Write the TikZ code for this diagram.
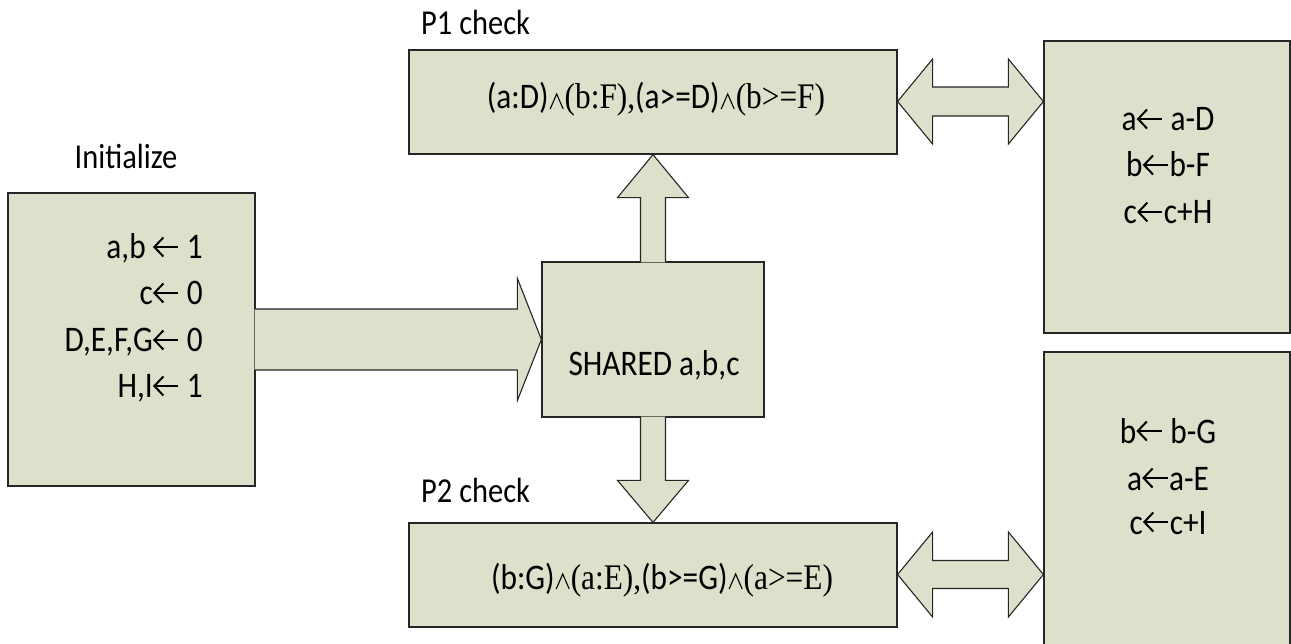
\documentclass[tikz,border=0pt]{standalone}
\usepackage{fontspec}
\setmainfont{Carlito}[FakeStretch=0.87]
\newfontfamily\tms{Liberation Serif}[FakeStretch=0.87]
\usetikzlibrary{calc}
\definecolor{boxfill}{RGB}{221,224,203}
% thin glyphs drawn inline: assignment arrow and logical and
\newcommand{\la}{\hspace{0.5pt}\tikz[baseline=0pt,x=1pt,y=1pt]{%
  \draw[line width=2pt] (25,12) -- (1.5,12);
  \draw[line width=2pt, line join=miter] (10,21.5) -- (1,12) -- (10,2.5);}\hspace{0.5pt}}
\newcommand{\andop}{\hspace{1pt}\tikz[baseline=0pt,x=1pt,y=1pt]{%
  \draw[line width=1.1pt, line join=miter] (0,0) -- (6.5,15) -- (13,0);}\hspace{1pt}}
\tikzset{
  box/.style={draw=black!85, fill=boxfill, line width=1.2pt, inner sep=0pt},
  blockarrow/.style={draw=black!85, fill=boxfill, line width=1.1pt, line join=miter},
  lbl/.style={inner sep=0pt, font=\fontsize{35}{40}\selectfont},
  txt/.style={inner sep=0pt, font=\fontsize{36}{42}\selectfont},
}
\begin{document}
\begin{tikzpicture}[x=1pt, y=-1pt]
\useasboundingbox (0,0) rectangle (1291,644);
\clip (0,0) rectangle (1291,644);

% boxes
\node[box, minimum width=247, minimum height=293] (init)   at (131.5,339.5) {};
\node[box, minimum width=222, minimum height=155] (shared) at (653,339.5) {};
\node[box, minimum width=488, minimum height=104] (p1)     at (653,102) {};
\node[box, minimum width=488, minimum height=104] (p2)     at (653,575) {};
\node[box, minimum width=246, minimum height=292] (r1)     at (1167,187) {};
\node[box, minimum width=246, minimum height=300] (r2)     at (1167,502) {};

% wide arrow: initialise -> shared
\filldraw[blockarrow]
  ($(init.east)+(-1,-30.5)$) -- ($(shared.west)+(-24,-30.5)$) -- ($(shared.west)+(-24,-61)$)
  -- (shared.west) -- ($(shared.west)+(-24,61)$) -- ($(shared.west)+(-24,30.5)$)
  -- ($(init.east)+(-1,30.5)$);

% shared -> P1 check (upwards)
\filldraw[blockarrow]
  ($(shared.north)+(-12.5,1)$) -- ($(p1.south)+(-12.5,43)$) -- ($(p1.south)+(-35.5,43)$)
  -- (p1.south) -- ($(p1.south)+(35.5,43)$) -- ($(p1.south)+(12.5,43)$)
  -- ($(shared.north)+(12.5,1)$);

% shared -> P2 check (downwards)
\filldraw[blockarrow]
  ($(shared.south)+(-12.5,-1)$) -- ($(p2.north)+(-12.5,-42)$) -- ($(p2.north)+(-35.5,-42)$)
  -- (p2.north) -- ($(p2.north)+(35.5,-42)$) -- ($(p2.north)+(12.5,-42)$)
  -- ($(shared.south)+(12.5,-1)$);

% two-way arrows to the update boxes
\coordinate (a1) at ($(p1.east)+(0,-0.5)$);
\coordinate (b1) at (r1.west |- a1);
\filldraw[blockarrow]
  (a1) -- ($(a1)+(35,-42.5)$) -- ($(a1)+(35,-14.5)$) -- ($(b1)+(-35,-14.5)$) -- ($(b1)+(-35,-42.5)$)
  -- (b1) -- ($(b1)+(-35,42.5)$) -- ($(b1)+(-35,14.5)$) -- ($(a1)+(35,14.5)$) -- ($(a1)+(35,42.5)$) -- cycle;

\coordinate (a2) at ($(p2.east)+(0,-0.5)$);
\coordinate (b2) at (r2.west |- a2);
\filldraw[blockarrow]
  (a2) -- ($(a2)+(35,-42.5)$) -- ($(a2)+(35,-14)$) -- ($(b2)+(-35,-14)$) -- ($(b2)+(-35,-42.5)$)
  -- (b2) -- ($(b2)+(-35,42.5)$) -- ($(b2)+(-35,14)$) -- ($(a2)+(35,14)$) -- ($(a2)+(35,42.5)$) -- cycle;

% labels
\node[lbl, anchor=base] (initlbl) at (126,169) {Initialize};
\node[lbl, anchor=base west] (p1lbl) at (421,35) {P1 check};
\node[lbl, anchor=base west] (p2lbl) at (421,502) {P2 check};

% initial values
\node[txt, anchor=base east] (i1) at (203,259) {a,b \la{} 1};
\node[txt, anchor=base east] (i2) at (203,305) {c\la{} 0};
\node[txt, anchor=base east] (i3) at (203,352) {D,E,F,G\la{} 0};
\node[txt, anchor=base east] (i4) at (203,398) {H,I\la{} 1};

\node[txt, anchor=base] (sh) at (654,376) {SHARED a,b,c};

% guards
\node[txt, anchor=base] (g1) at (656,109)
  {(a:D)\andop{\tms(b:F),}(a>=D)\andop{\tms(b>=F)}};
\node[txt, anchor=base] (g2) at (662,589)
  {(b:G)\andop{\tms(a:E),}(b>=G)\andop{\tms(a>=E)}};

% updates
\node[txt, anchor=base] (u1) at (1168,131) {a\la{} a-D};
\node[txt, anchor=base] (u2) at (1168,177) {b\la{}b-F};
\node[txt, anchor=base] (u3) at (1168,224) {c\la{}c+H};

\node[txt, anchor=base] (v1) at (1168,443) {b\la{} b-G};
\node[txt, anchor=base] (v2) at (1168,490) {a\la{}a-E};
\node[txt, anchor=base] (v3) at (1168,534) {c\la{}c+I};
\end{tikzpicture}
\end{document}
